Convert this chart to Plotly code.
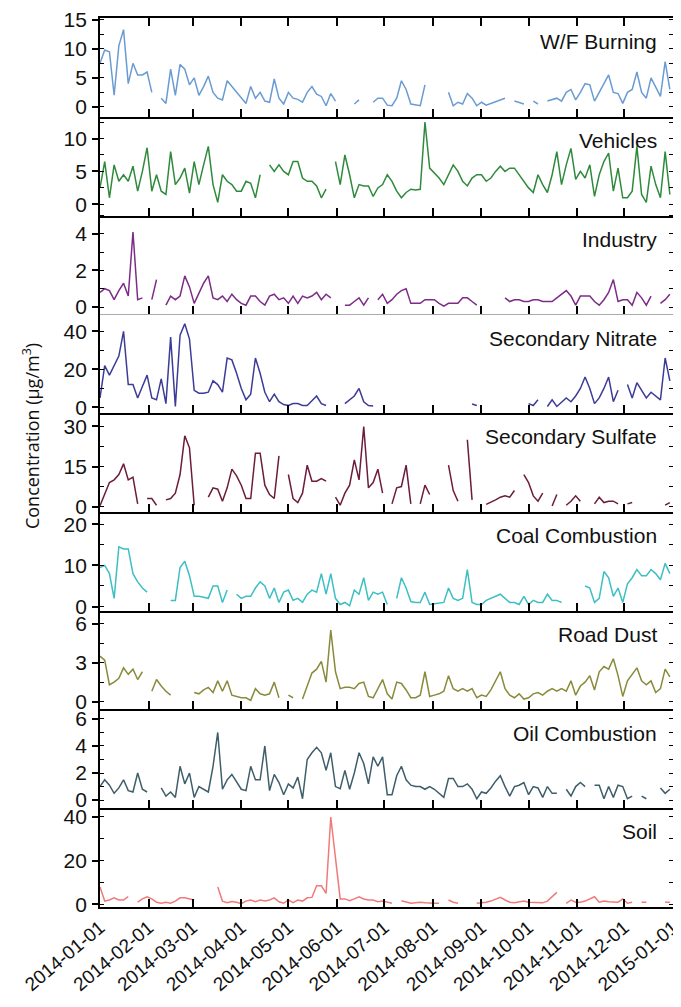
import pandas as pd
import plotly.graph_objects as go
from plotly.subplots import make_subplots

N = None
# sampling dates (every 3 days through 2014)
dates = pd.date_range("2014-01-01", periods=122, freq="3D")

wf_burning = [7.5, 9.8, 9.5, 2, 10.5, 13.3, 4, 7.5, 5.5, 5.5,
              6, 2.5, N, 1.5, 0.6, 6.5, 2, 7.3, 6.5, 3.8,
              5, 2, 3.5, 5.3, 2.5, 1.5, 1.2, 4.5, 3.5, 2.5,
              1.5, 0.6, 3.5, 1.5, 2.5, 1, 0.8, 4.8, 1.5, 0.5,
              2.5, 1.5, 1.3, 0.8, 2.5, 3.5, 2.2, 1.8, 0.2, 2.3,
              1, N, N, N, 0.5, 1.2, N, N, 0.8, 1.5,
              1.5, 0.3, 0.2, 1.5, 4.5, 3, 0.5, 0.3, 0.2, 3.8,
              N, N, N, N, 2.5, 0.2, 0.8, 0.5, 2.3, 1.5,
              0.2, 0.8, 0.3, 0.6, 0.9, 1.2, 1.5, N, 1, 0.8,
              0.5, N, 1, 0.5, N, 1, 1.3, 1.5, 1, 2.5,
              3, 1.2, 2.5, 4, 3.8, 1, 2.5, 4, 5.5, 2.5,
              2.3, 0.6, 2.5, 3, 6, 2.5, 1.5, 5, 3.5, 1.8,
              7.8, 3]

vehicles = [2.5, 6.5, 1, 6, 3.5, 4.5, 3.5, 5.8, 2, 5,
            8.6, 2, 4.5, 2, 1.5, 8, 3, 4, 5.5, 1.7,
            6.5, 3, 6, 8.8, 3, 0.3, 4.5, 3.5, 3, 2,
            2, 3.5, 3.2, 1, 4.5, N, 6, 5, 6, 5,
            4.5, 6.5, 6.5, 4, 3.5, 3.5, 2.8, 1, 2.3, N,
            6.5, 3, 7.5, 4.5, 1, 3, 2.8, 2.8, 1.2, 2.5,
            3, 4.5, 3.5, 2, 1, 1.8, 2.3, 2.2, 2.3, 12.5,
            5.5, 4.8, 4, 3, 4.5, 6, 5, 3.5, 2.8, 4,
            4.5, 4.5, 3.5, 4, 5, 5.8, 5, 5.5, 5.5, 4.5,
            3.5, 2.5, 1.8, 4.5, 3, 1.8, 4.5, 8, 3, 6,
            8.5, 3.8, 5, 4, 6, 1.2, 4.5, 6.5, 7.8, 2,
            5.5, 1, 1, 2, 8.8, 1.5, 0.3, 5.8, 3, 1,
            8, 1.5]

industry = [0.8, 1, 0.9, 0.4, 0.9, 1.3, 0.6, 4.1, 0.4, 0.5,
            N, 0.4, 1.5, N, 0.1, 0.6, 0.4, 0.6, 1.7, 1.1,
            0.2, 0.8, 1.3, 1.7, 0.5, 0.4, 0.6, 0.3, 0.7, 0.4,
            0.2, 0.1, 0.6, 0.6, 0.3, 0.1, 0.6, 0.7, 0.4, 0.5,
            0.2, 0.6, 0.2, 0.6, 0.5, 0.6, 0.8, 0.4, 0.7, 0.5,
            N, N, 0.1, 0.1, 0.3, 0.5, 0.1, 0.5, N, 0.4,
            0.7, 0.2, 0.4, 0.7, 0.9, 1, 0.2, 0.2, 0.2, 0.4,
            0.4, 0.4, 0.2, 0.05, 0.2, 0.2, 0.2, 0.5, 0.5, 0.3,
            0.1, N, N, N, N, N, 0.5, 0.3, 0.4, 0.4,
            0.3, 0.3, 0.4, 0.4, 0.3, 0.3, 0.3, 0.5, 0.7, 0.9,
            0.6, 0.1, 0.6, 0.6, 0.6, 0.3, 0.1, 0.4, 0.8, 1.5,
            0.3, 0.4, 0.4, 0.1, 0.8, 0.5, 0.1, 0.6, N, 0.2,
            0.4, 0.7]

sec_nitrate = [5, 22, 17, 22, 27, 40, 12, 12, 5, 11,
               17, 5, 4, 15, 2, 37, 0.5, 38, 44, 36,
               9, 7.5, 7.5, 8, 14, 12, 8, 26, 25, 18,
               10, 4, 7, 26, 18, 8, 3, 7, 3, 1.5,
               1, 2, 2, 1, 1, 3.5, 6, 2, 1, N,
               N, N, 2, 4, 6, 10, 3, 1, 0.8, N,
               N, N, N, N, N, N, N, N, N, N,
               N, N, N, N, N, N, N, N, N, 1.8,
               1, N, N, N, N, N, N, N, N, N,
               N, 2, 1, 4, N, 0.5, 4, 0.5, 3, 5,
               3, 6, 10, 16, 10, 2, 5, 10, 16, 3,
               9, N, 12, 5, 13, 9, 5, 8, 6, 4,
               26, 14]

sec_sulfate = [0.3, 5, 9, 10, 12, 16, 10, 11, 1, N,
               3, 3, 0.5, N, 2.5, 3, 5, 12, 26.5, 22,
               0.5, N, N, 3.5, 7, 6.5, 2, 7, 14, 11.5,
               8, 3, 3, 20, 20, 8, 4.5, 3, 19, N,
               12, 3, 1.5, 5, 15.5, 9.5, 9.5, 10.5, 9.5, N,
               3.5, 0.5, 5, 8, 17.5, 10, 30, 7, 9, 14,
               5, N, 1, 7, 7.5, 15.5, 1, N, 1, 8,
               4.5, N, N, N, 15.5, 6, 2, N, 25, 2.5,
               N, N, 0.8, 1.5, 2.5, 3.5, 4, 3.5, 6, N,
               12, 9, 4, 2, 5, N, 0.2, 4.5, N, 0.5,
               2, 4, 2, N, N, 1, 3.5, 1.5, 2, 2,
               1, N, 1, 1.5, N, N, N, N, N, N,
               0.5, 1.5]

coal_combustion = [9.5, 10, 8, 2, 14.5, 14, 14, 8, 6, 4.5,
                   3.5, N, N, N, N, 1.5, 1.5, 9.5, 11, 7.5,
                   2.5, 2.5, 2.2, 2, 5, 5, 1, 4, N, 3,
                   2, 2.5, 2.5, 4.5, 6, 5, 2, 4.5, 1, 3.5,
                   4, 1.5, 2, 1, 3, 4, 3.5, 8, 3, 8,
                   2, 0.5, 1, 0.2, 4, 3, 7, 1.5, 3.5, 3,
                   3.5, 0.5, N, 2, 7, 4.5, 1.2, 1, 1, 3.5,
                   0.5, 0.7, 0.8, 1, 4.5, 2, 1.5, 2, 9, 1,
                   0.5, 0.5, 1.5, 2, 2.5, 3, 2, 1, 1, 0.5,
                   2.5, 0.5, 1.5, 1, 1, 3, 1.5, 1.5, 1, N,
                   N, N, N, 5, 4.5, 1, 2, 8.5, 7, 2.5,
                   4.5, 1, 5.5, 7, 9, 7.5, 7.5, 9, 8, 6.5,
                   10.5, 8]

road_dust = [3.5, 3.2, 1.3, 1.5, 1.8, 2.6, 2.1, 2.5, 1.7, 2.3,
             N, 0.8, 1.7, 1.2, 0.8, 0.5, N, 0.8, N, N,
             0.7, 0.6, 0.9, 1.1, 0.7, 1.6, 0.8, 1.6, 0.5, 0.4,
             0.3, 0.3, 0.1, 1, 0.6, 0.5, 0.6, 1.5, 0.3, N,
             0.5, 0.3, N, 0.2, 1.2, 2.2, 2.5, 3.1, 1.5, 5.5,
             2.3, 1, 1.1, 1.1, 1, 1.4, 1.5, 0.4, 0.3, 1,
             1.7, 0.6, 0.2, 1.5, 1.4, 0.9, 0.3, 0.3, 0.5, 2.3,
             0.4, 0.5, 0.6, 0.8, 2, 1, 0.8, 1, 0.8, 1,
             0.3, 0.5, 0.4, 0.9, 1.6, 2.3, 1, 0.5, 0.3, 0.6,
             0.2, 0.3, 0.6, 0.7, 0.5, 0.8, 1, 0.8, 1, 0.8,
             1.6, 0.5, 1.2, 1.5, 2, 0.9, 2.3, 2.7, 2.5, 3.3,
             2, 0.4, 1.6, 2.1, 2.6, 1.6, 1.3, 1.6, 0.7, 1,
             2.5, 1.9]

oil_combustion = [1, 1.5, 1.1, 0.5, 0.9, 1.5, 0.7, 0.6, 2, 0.8,
                  0.6, N, N, 0.9, 0.3, 0.6, 0.2, 2.5, 1.2, 2,
                  0.2, 1, 0.8, 0.6, 2.5, 5, 0.8, 1.5, 1.9, 1.3,
                  0.8, 0.7, 2.5, 1.5, 1.5, 4, 0.7, 1.9, 1.3, 0.4,
                  1.2, 0.9, 1.7, 0.1, 3, 3.5, 3.9, 3.5, 2.2, 3.5,
                  1, 0.85, 2.2, 0.8, 2, 3.5, 2.7, 1.2, 3.2, 2.5,
                  3.2, 0.4, 0.4, 1.8, 2.5, 1.5, 1.1, 1, 1, 0.8,
                  1, 0.8, 0.5, 0.2, 1.6, 1.6, 1, 1, 1.2, 0.8,
                  0.1, 0.6, 0.5, 0.9, 1.4, 1.8, 1, 0.3, 1, 1.1,
                  1.3, 0.4, 1, 0.9, 0.2, 1, 0.5, 0.5, N, 0.8,
                  0.3, 1, 1.3, 1, N, 1.1, 1.1, 0.1, 1, 0.2,
                  1.1, 1, 0.1, 0.3, N, 0.3, 0.1, N, N, 0.9,
                  0.5, 0.8]

soil = [8, 1.5, 2, 3, 2, 2, 3.5, N, 1, 2.5,
        3.5, 2.5, 1, 0.5, 1, 0.5, 1.5, 3, 3, 2.5,
        2, N, N, N, N, 8, 1.5, 0.8, 1.3, 1,
        0.3, 1.5, 2, 1.2, 2, 1.5, 2, 3, 1.2, 0.5,
        2, 0.8, 2, 1.5, 3, 3.2, 8.5, 8.5, 5, 40,
        22, 2.5, 2.5, 1.7, 2.5, 3.5, 2.5, 2, 2, 1.2,
        1.5, 1, 0.5, N, 1.7, 1.2, 0.5, 0.8, 1, 0.8,
        0.5, 0.5, 0.5, N, 2, 1, 0.5, N, 1, N,
        0.5, 0.7, 1, 1.5, 2.3, 3.2, 2, 1, 0.7, 1,
        1.5, 1, 0.8, 0.6, 0.7, 1.5, 3.5, 5.5, N, 0.5,
        2, 1, 1, 1.5, 2.5, 3.5, 1, 1.5, 1.2, 1,
        1, 2.5, 0.5, 1, N, 1, 1, N, 1, N,
        1, 1]

names = ["W/F Burning", "Vehicles", "Industry", "Secondary Nitrate",
         "Secondary Sulfate", "Coal Combustion", "Road Dust",
         "Oil Combustion", "Soil"]
series = [wf_burning, vehicles, industry, sec_nitrate, sec_sulfate,
          coal_combustion, road_dust, oil_combustion, soil]
colors = ["#6a9bd2", "#2f8a3c", "#7d2c88", "#3c3c98", "#6c1c3c",
          "#3dbfc4", "#8a8a3c", "#3f5e6b", "#f07a7a"]
y_ranges = [[-1.7, 15.3], [-1.7, 13.3], [-0.4, 5], [-3, 49], [-2, 35],
            [-1, 23], [-0.6, 7], [-0.6, 6.7], [-1.2, 44]]
y_ticks = [[0, 5, 10, 15], [0, 5, 10], [0, 2, 4], [0, 20, 40], [0, 15, 30],
           [0, 10, 20], [0, 3, 6], [0, 2, 4, 6], [0, 20, 40]]
y_minor = [2.5, 2.5, 1, 10, 7.5, 5, 1.5, 1, 10]

month_ticks = pd.date_range("2014-01-01", "2015-01-01", freq="MS")

fig = make_subplots(rows=9, cols=1, shared_xaxes=True, vertical_spacing=0)

FONT = "Liberation Sans, Arial, sans-serif"

for k, (nm, vals, col) in enumerate(zip(names, series, colors)):
    r = k + 1
    fig.add_trace(go.Scatter(x=dates, y=vals, mode="lines", name=nm,
                             line=dict(color=col, width=1.5),
                             connectgaps=False, showlegend=False),
                  row=r, col=1)
    fig.update_yaxes(range=y_ranges[k], tickvals=y_ticks[k],
                     automargin=False,
                     showline=True, linecolor="black", linewidth=1.8,
                     mirror="ticks", ticks="outside", ticklen=6,
                     tickwidth=1.6, tickcolor="black", showgrid=False,
                     zeroline=False, ticklabelstandoff=1,
                     tickfont=dict(family=FONT, size=21, color="#111"),
                     minor=dict(dtick=y_minor[k], tick0=0, ticks="inside",
                                ticklen=4, tickwidth=1.4, tickcolor="black",
                                showgrid=False),
                     row=r, col=1)
    fig.update_xaxes(type="date", range=["2014-01-01", "2015-01-01"],
                     tickvals=month_ticks, tickformat="%Y-%m-%d",
                     automargin=False,
                     showline=True, linecolor="black", linewidth=2,
                     mirror=("ticks" if r == 1 else False),
                     ticks="inside", ticklen=8,
                     tickwidth=1.6, tickcolor="black", showgrid=False,
                     zeroline=False,
                     tickfont=dict(family=FONT, size=19, color="#111"),
                     tickangle=-40, showticklabels=(r == 9),
                     row=r, col=1)
    xs = "x" if r == 1 else f"x{r}"
    ys = "y" if r == 1 else f"y{r}"
    fig.add_annotation(text=nm, xref=f"{xs} domain", yref=f"{ys} domain",
                       x=0.976, y=0.76, xanchor="right", yanchor="middle",
                       showarrow=False,
                       font=dict(family=FONT, size=21, color="#111"))

fig.add_annotation(text="Concentration (μg/m<sup>3</sup>)",
                   xref="paper", yref="paper", x=-0.12, y=0.53,
                   textangle=-90, showarrow=False, xanchor="center",
                   yanchor="middle",
                   font=dict(family="Open Sans, sans-serif", size=18,
                             color="#111"))

fig.update_layout(width=681, height=1007,
                  margin=dict(l=92, r=16, t=10, b=108),
                  plot_bgcolor="white", paper_bgcolor="white",
                  showlegend=False)

fig.write_html("out.html")
